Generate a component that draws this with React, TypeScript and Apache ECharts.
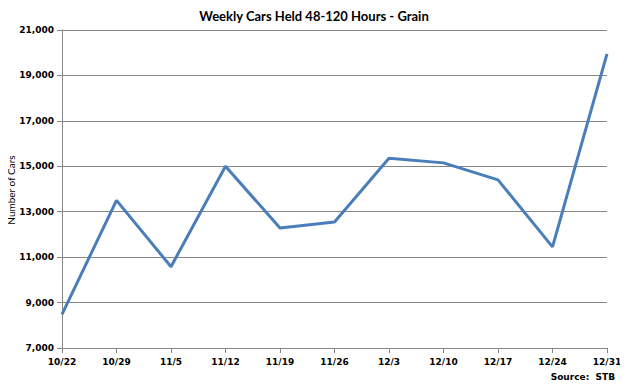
import React, { useEffect, useRef } from "react";
import * as echarts from "echarts";

const categories = ["10/22", "10/29", "11/5", "11/12", "11/19", "11/26", "12/3", "12/10", "12/17", "12/24", "12/31"];
const cars = [8480, 13500, 10580, 15000, 12280, 12550, 15350, 15150, 14400, 11450, 19950];

export default function App() {
  const ref = useRef<HTMLDivElement>(null);
  useEffect(() => {
    const chart = echarts.init(ref.current!, null, { renderer: "svg" });
    chart.setOption({
      animation: false,
      backgroundColor: "#ffffff",
      title: {
        text: "Weekly Cars Held 48-120 Hours - Grain",
        left: "center",
        top: 4,
        textStyle: { fontFamily: "Lato", fontWeight: "bold", fontSize: 13, color: "#000" },
      },
      graphic: [
        {
          type: "text",
          right: 13,
          top: 372,
          style: { text: "Source:  STB", font: "bold 9px 'DejaVu Sans'", fill: "#000" },
        },
        {
          type: "text",
          x: 11,
          y: 190,
          rotation: Math.PI / 2,
          style: {
            text: "Number of Cars",
            font: "10px Lato",
            fill: "#000",
            align: "center",
            verticalAlign: "middle",
          },
        },
      ],
      grid: { left: 62, right: 21, top: 30, bottom: 40, containLabel: false, outerBoundsMode: "none" },
      xAxis: {
        type: "category",
        data: categories,
        boundaryGap: false,
        axisLine: { lineStyle: { color: "#868686" } },
        axisTick: { show: true, alignWithLabel: true, length: 5, lineStyle: { color: "#868686" } },
        axisLabel: { fontFamily: "DejaVu Sans", fontWeight: "bold", fontSize: 9, color: "#000", margin: 9 },
      },
      yAxis: {
        type: "value",
        min: 7000,
        max: 21000,
        interval: 2000,
        axisLine: { show: true, lineStyle: { color: "#868686" } },
        axisTick: { show: true, length: 5, lineStyle: { color: "#868686" } },
        splitLine: { lineStyle: { color: "#868686", width: 1 } },
        axisLabel: {
          fontFamily: "DejaVu Sans",
          fontWeight: "bold",
          fontSize: 9,
          color: "#000",
          margin: 8,
          formatter: (v: number) => v.toLocaleString("en-US"),
        },
      },
      series: [
        {
          type: "line",
          data: cars,
          symbol: "none",
          lineStyle: { color: "#4a7ebb", width: 3 },
        },
      ],
    });
    return () => chart.dispose();
  }, []);
  return <div ref={ref} style={{ width: 628, height: 388, margin: -8 }} />;
}
